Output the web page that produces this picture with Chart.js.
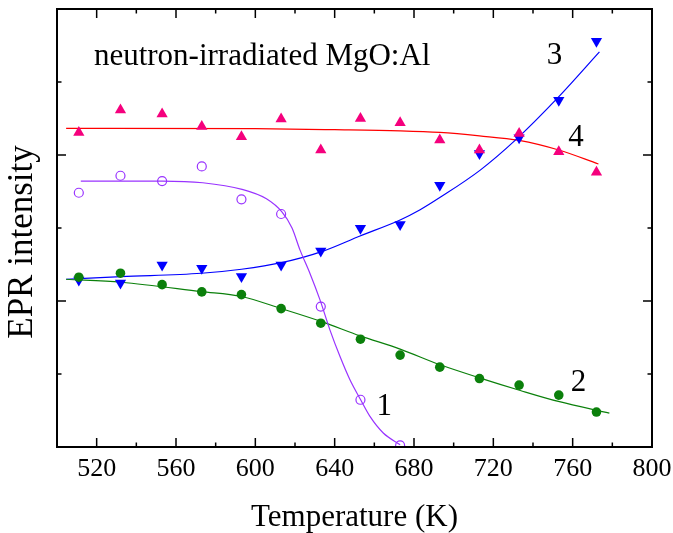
<!DOCTYPE html>
<html><head><meta charset="utf-8">
<script src="https://cdn.jsdelivr.net/npm/chart.js@4.4.0/dist/chart.umd.min.js"></script>
<style>html,body{margin:0;padding:0;background:#fff;}#wrap{width:673px;height:533px;}</style>
</head><body><div id="wrap"><canvas id="c" width="673" height="533"></canvas></div>
<script>
// Temperatures (K) of the measured points
const temps = [511, 532, 553, 573, 593, 613, 633, 653, 673, 693, 713, 733, 753, 772];
// Measured EPR intensities (arb. units)
const series1 = [3.483, 3.716, 3.643, 3.844, 3.393, 3.192, 1.923, 0.647, 0.022];
const series2 = [2.326, 2.381, 2.224, 2.125, 2.088, 1.896, 1.696, 1.477, 1.259, 1.094, 0.938, 0.848, 0.711, 0.479];
const series3 = [2.287, 2.246, 2.492, 2.447, 2.334, 2.492, 2.684, 2.995, 3.049, 3.587, 4.021, 4.235, 4.750, 5.557];
const series4 = [4.309, 4.616, 4.561, 4.390, 4.250, 4.493, 4.068, 4.501, 4.442, 4.205, 4.068, 4.295, 4.045, 3.762];
// Fitted curves
const fit1T = [512, 553, 573.5, 593.3, 605.6, 613.4, 618.5, 622.5, 627.5, 632.6, 637.6, 642.7, 647.7, 653.1, 657.8, 664.5, 673];
const fit1Y = [3.643, 3.643, 3.620, 3.529, 3.40, 3.22, 3.00, 2.70, 2.38, 2.015, 1.605, 1.239, 0.921, 0.647, 0.419, 0.192, 0.031];
const fit2T = [504.6, 532.4, 572.8, 593, 613.2, 633.4, 652.8, 673, 693.2, 713.4, 733.6, 752.8, 778.5];
const fit2Y = [2.298, 2.257, 2.129, 2.062, 1.895, 1.718, 1.523, 1.341, 1.126, 0.944, 0.774, 0.624, 0.465];
const fit3T = [504.6, 532.4, 572.8, 593, 613.2, 633.4, 652.8, 673, 683.1, 693.2, 713.4, 731.1, 752.8, 773.5];
const fit3Y = [2.298, 2.334, 2.380, 2.435, 2.525, 2.676, 2.891, 3.110, 3.250, 3.420, 3.793, 4.203, 4.792, 5.412];
const fit4T = [504.6, 600, 640, 673, 693, 713, 733, 753, 773];
const fit4Y = [4.364, 4.360, 4.347, 4.331, 4.309, 4.262, 4.200, 4.068, 3.877];
// Axis ticks
const xMin = 500, xMax = 800, xStep = 20, xLabelStep = 40;
const yMin = 0, yMax = 6, yStep = 1;
const xTitle = 'Temperature (K)';
const yTitle = 'EPR intensity';
const chartTitle = 'neutron-irradiated MgO:Al';
// curve labels: [text, x (K), y]
const curveLabels = [['1', 665.0, 0.555], ['2', 763.0, 0.876], ['3', 750.9, 5.357], ['4', 761.7, 4.241]];

const pts = (xs, ys) => ys.map((v, i) => ({x: xs[i], y: v}));
const PURPLE = '#9933ff', GREEN = '#0b800b', BLUE = '#0000ff', PINK = '#f5007d', RED = '#ff0000';
const FONT = '"Liberation Serif", "Times New Roman", serif';

const framePlugin = {
  id: 'frame',
  afterDraw(chart) {
    const {ctx, chartArea: a, scales: {x, y}} = chart;
    ctx.save();
    ctx.strokeStyle = '#000';
    ctx.lineWidth = 1.5;
    ctx.beginPath();
    x.ticks.forEach(t => {
      const px = x.getPixelForValue(t.value);
      const len = (t.value % xLabelStep === 0) ? 9 : 4.5;
      ctx.moveTo(px, a.bottom); ctx.lineTo(px, a.bottom - len);
      ctx.moveTo(px, a.top); ctx.lineTo(px, a.top + len);
    });
    y.ticks.forEach(t => {
      const py = y.getPixelForValue(t.value);
      const len = (t.value % 2 === 0) ? 9 : 4.5;
      ctx.moveTo(a.left, py); ctx.lineTo(a.left + len, py);
      ctx.moveTo(a.right, py); ctx.lineTo(a.right - len, py);
    });
    ctx.stroke();
    ctx.lineWidth = 2;
    ctx.strokeRect(a.left, a.top, a.right - a.left, a.bottom - a.top);

    ctx.fillStyle = '#000';
    ctx.font = '31px ' + FONT;
    ctx.textAlign = 'left';
    ctx.textBaseline = 'alphabetic';
    ctx.fillText(chartTitle, x.getPixelForValue(518.6), y.getPixelForValue(5.23));

    ctx.textAlign = 'center';
    ctx.textBaseline = 'middle';
    ctx.font = '31px ' + FONT;
    curveLabels.forEach(([t, vx, vy]) => ctx.fillText(t, x.getPixelForValue(vx), y.getPixelForValue(vy)));

    ctx.font = '31px ' + FONT;
    ctx.textBaseline = 'alphabetic';
    ctx.fillText(xTitle, (a.left + a.right) / 2, 526);

    ctx.translate(22.5, 242);
    ctx.rotate(-Math.PI / 2);
    ctx.font = '35px ' + FONT;
    ctx.textBaseline = 'middle';
    ctx.fillText(yTitle, 0, 0);
    ctx.restore();
  }
};

new Chart(document.getElementById('c'), {
  type: 'scatter',
  data: {
    datasets: [
      {data: pts(temps, series1), pointStyle: 'circle', pointRadius: 4.5, pointBorderWidth: 1.2,
       borderColor: PURPLE, backgroundColor: 'rgba(255,255,255,0)', order: 1},
      {data: pts(temps, series2), pointStyle: 'circle', pointRadius: 4.8, pointBorderWidth: 0,
       borderColor: GREEN, backgroundColor: GREEN, order: 1},
      {data: pts(temps, series4), pointStyle: 'triangle', pointRadius: 6.5, pointBorderWidth: 0,
       borderColor: PINK, backgroundColor: PINK, order: 1},
      {data: pts(temps, series3), pointStyle: 'triangle', rotation: 180, pointRadius: 6.5, pointBorderWidth: 0,
       borderColor: BLUE, backgroundColor: BLUE, order: 1},
      {data: pts(fit1T, fit1Y), showLine: true, pointRadius: 0, borderColor: PURPLE, borderWidth: 1.2, cubicInterpolationMode: 'monotone', order: 2},
      {data: pts(fit2T, fit2Y), showLine: true, pointRadius: 0, borderColor: GREEN, borderWidth: 1.2, cubicInterpolationMode: 'monotone', order: 2},
      {data: pts(fit3T, fit3Y), showLine: true, pointRadius: 0, borderColor: BLUE, borderWidth: 1.2, cubicInterpolationMode: 'monotone', order: 2},
      {data: pts(fit4T, fit4Y), showLine: true, pointRadius: 0, borderColor: RED, borderWidth: 1.2, cubicInterpolationMode: 'monotone', order: 2}
    ]
  },
  options: {
    responsive: false,
    animation: false,
    events: [],
    layout: {padding: {top: 9, right: 21, left: 0, bottom: 0}},
    plugins: {legend: {display: false}, tooltip: {enabled: false}},
    scales: {
      x: {
        type: 'linear', min: xMin, max: xMax,
        grid: {display: false, drawTicks: false},
        border: {display: false},
        ticks: {
          stepSize: xStep, autoSkip: false, maxRotation: 0, minRotation: 0, padding: 7,
          color: '#000', font: {family: FONT, size: 26, lineHeight: 1.2},
          callback: v => (v % xLabelStep === 0 ? String(v) : '')
        },
        afterFit: s => { s.height = 86; s.paddingLeft = 0; s.paddingRight = 0; }
      },
      y: {
        type: 'linear', min: yMin, max: yMax,
        grid: {display: false, drawTicks: false},
        border: {display: false},
        ticks: {stepSize: yStep, display: false},
        afterFit: s => { s.width = 57; s.paddingTop = 0; s.paddingBottom = 0; }
      }
    }
  },
  plugins: [framePlugin]
});
</script>
</body></html>
